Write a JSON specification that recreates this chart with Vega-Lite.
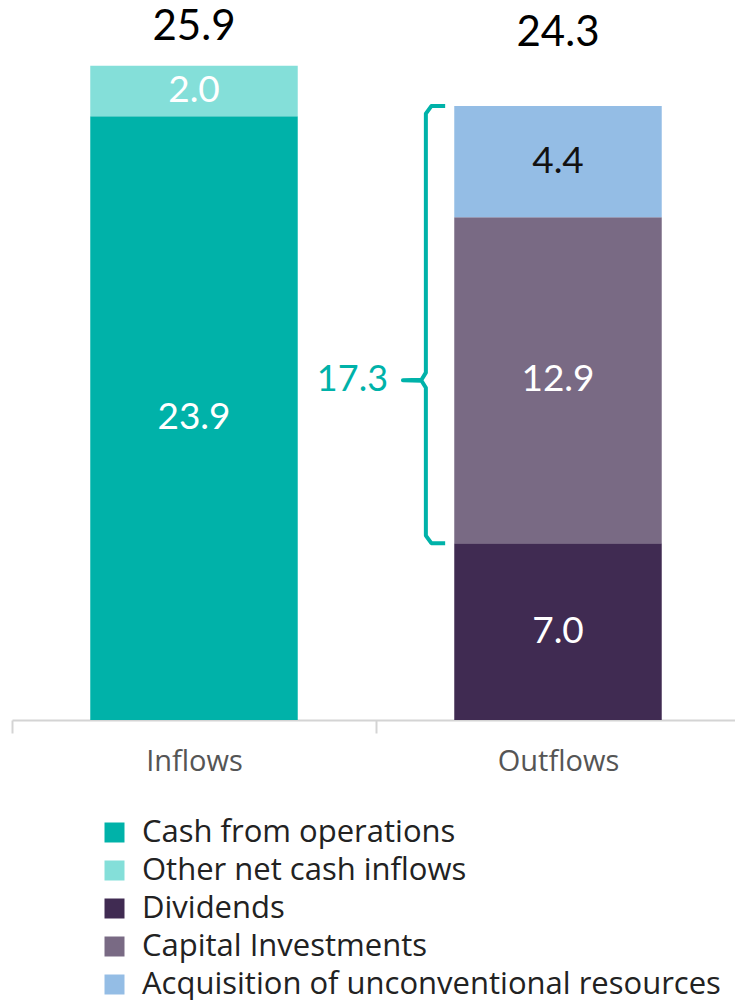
{
  "$schema": "https://vega.github.io/schema/vega-lite/v6.json",
  "width": 728,
  "height": 720,
  "autosize": {"type": "none"},
  "padding": {"left": 12, "top": 0, "right": 0, "bottom": 280},
  "config": {"view": {"stroke": null}, "font": "Lato"},
  "datasets": {
    "flows": [
      {"flow": "Inflows", "cat": "Cash from operations", "v": 23.9, "k": 1},
      {"flow": "Inflows", "cat": "Other net cash inflows", "v": 2.0, "k": 2},
      {"flow": "Outflows", "cat": "Dividends", "v": 7.0, "k": 3},
      {"flow": "Outflows", "cat": "Capital Investments", "v": 12.9, "k": 4},
      {"flow": "Outflows", "cat": "Acquisition of unconventional resources", "v": 4.4, "k": 5}
    ],
    "totals": [
      {"flow": "Inflows", "total": 25.9},
      {"flow": "Outflows", "total": 24.3}
    ],
    "brace": [
      {"p": 1, "bx": 1.19, "by": 24.3},
      {"p": 2, "bx": 1.152, "by": 24.3},
      {"p": 3, "bx": 1.137, "by": 24.0},
      {"p": 4, "bx": 1.137, "by": 13.75},
      {"p": 5, "bx": 1.125, "by": 13.47},
      {"p": 6, "bx": 1.074, "by": 13.45},
      {"p": 7, "bx": 1.125, "by": 13.43},
      {"p": 8, "bx": 1.137, "by": 13.15},
      {"p": 9, "bx": 1.137, "by": 7.3},
      {"p": 10, "bx": 1.152, "by": 7.0},
      {"p": 11, "bx": 1.19, "by": 7.0}
    ],
    "braceLabel": [{"bx": 1.033, "by": 13.45, "label": "17.3"}]
  },
  "layer": [
    {
      "layer": [
        {
          "data": {"name": "flows"},
          "mark": {"type": "bar", "width": {"band": 0.57}},
          "encoding": {
            "x": {
              "field": "flow", "type": "nominal",
              "scale": {"domain": ["Inflows", "Outflows"], "paddingInner": 0, "paddingOuter": 0},
              "axis": {
                "title": null, "labelAngle": 0, "tickBand": "extent",
                "domainColor": "#d4d4d4", "domainWidth": 2,
                "tickColor": "#d4d4d4", "tickWidth": 2, "tickSize": 13,
                "labelFont": "Open Sans", "labelFontSize": 29, "labelColor": "#555555",
                "labelPadding": 14
              }
            },
            "y": {
              "field": "v", "type": "quantitative", "aggregate": "sum", "stack": "zero",
              "scale": {"domain": [0, 28.5], "nice": false}, "axis": null
            },
            "color": {
              "field": "cat", "type": "nominal",
              "scale": {
                "domain": ["Cash from operations", "Other net cash inflows", "Dividends", "Capital Investments", "Acquisition of unconventional resources"],
                "range": ["#00b2a9", "#84dfd9", "#402b52", "#796a84", "#94bde5"]
              },
              "legend": {
                "title": null, "orient": "none", "legendX": 87, "legendY": 817,
                "symbolType": "square", "symbolSize": 400, "symbolStrokeWidth": 0,
                "labelFont": "Open Sans", "labelFontSize": 31, "labelColor": "#222222",
                "labelOffset": 12, "rowPadding": 6, "labelLimit": 700
              }
            },
            "order": {"field": "k", "type": "quantitative", "sort": "ascending"}
          }
        },
        {
          "data": {"name": "flows"},
          "transform": [
            {"stack": "v", "groupby": ["flow"], "sort": [{"field": "k", "order": "ascending"}], "as": ["v0", "v1"]},
            {"calculate": "(datum.v0 + datum.v1) / 2", "as": "mid"}
          ],
          "mark": {"type": "text", "fontSize": 37, "baseline": "middle", "align": "center", "font": "Lato"},
          "encoding": {
            "x": {"field": "flow", "type": "nominal"},
            "y": {"field": "mid", "type": "quantitative", "scale": {"domain": [0, 28.5], "nice": false}, "axis": null},
            "text": {"field": "v", "type": "quantitative", "format": ".1f"},
            "color": {
              "condition": {"test": "datum.cat === 'Acquisition of unconventional resources'", "value": "#111111"},
              "value": "#ffffff"
            }
          }
        },
        {
          "data": {"name": "totals"},
          "transform": [{"filter": "datum.flow === 'Inflows'"}],
          "mark": {"type": "text", "fontSize": 42, "baseline": "middle", "align": "center", "dy": -39, "color": "#000000", "font": "Lato"},
          "encoding": {
            "x": {"field": "flow", "type": "nominal"},
            "y": {"field": "total", "type": "quantitative", "scale": {"domain": [0, 28.5], "nice": false}, "axis": null},
            "text": {"field": "total", "type": "quantitative", "format": ".1f"}
          }
        },
        {
          "data": {"name": "totals"},
          "transform": [{"filter": "datum.flow === 'Outflows'"}],
          "mark": {"type": "text", "fontSize": 42, "baseline": "middle", "align": "center", "dy": -73, "color": "#000000", "font": "Lato"},
          "encoding": {
            "x": {"field": "flow", "type": "nominal"},
            "y": {"field": "total", "type": "quantitative", "scale": {"domain": [0, 28.5], "nice": false}, "axis": null},
            "text": {"field": "total", "type": "quantitative", "format": ".1f"}
          }
        }
      ]
    },
    {
      "layer": [
        {
          "data": {"name": "brace"},
          "mark": {"type": "line", "color": "#00b2a9", "strokeWidth": 4, "strokeJoin": "round", "strokeCap": "butt"},
          "encoding": {
            "x": {"field": "bx", "type": "quantitative", "scale": {"domain": [0, 2], "nice": false, "zero": false}, "axis": null},
            "y": {"field": "by", "type": "quantitative", "scale": {"domain": [0, 28.5], "nice": false}, "axis": null},
            "order": {"field": "p", "type": "quantitative"}
          }
        },
        {
          "data": {"name": "braceLabel"},
          "mark": {"type": "text", "fontSize": 36, "baseline": "middle", "align": "right", "color": "#00b2a9", "font": "Lato"},
          "encoding": {
            "x": {"field": "bx", "type": "quantitative", "scale": {"domain": [0, 2], "nice": false, "zero": false}, "axis": null},
            "y": {"field": "by", "type": "quantitative", "scale": {"domain": [0, 28.5], "nice": false}, "axis": null},
            "text": {"field": "label", "type": "nominal"}
          }
        }
      ]
    }
  ],
  "resolve": {"scale": {"x": "independent"}, "axis": {"x": "independent"}}
}
